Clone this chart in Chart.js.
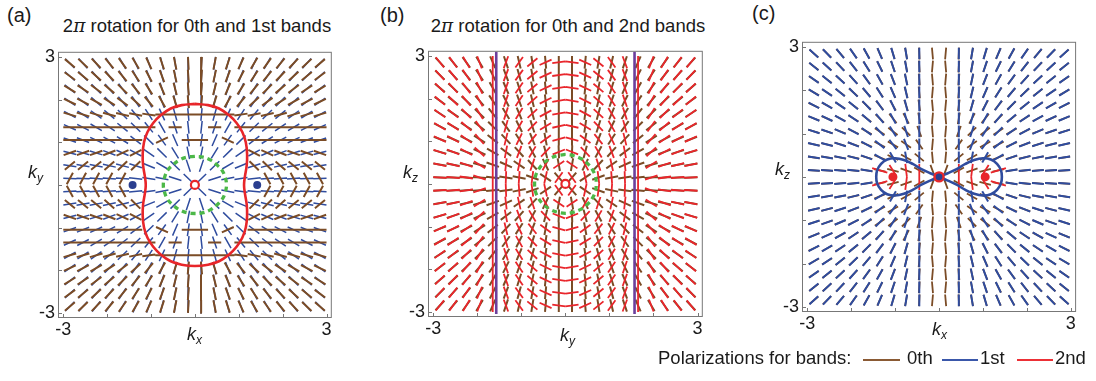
<!DOCTYPE html>
<html>
<head>
<meta charset="utf-8">
<script src="https://cdn.jsdelivr.net/npm/chart.js@4.4.1/dist/chart.umd.min.js"></script>
<style>
  body { margin: 0; width: 1096px; height: 381px; position: relative; overflow: hidden; background: #fff;
         font-family: "Liberation Sans", Arial, sans-serif; color: #1a1a1a; }
  canvas { position: absolute; }
  .t { position: absolute; white-space: nowrap; line-height: 1; }
  .title { font-size: 18.5px; transform: translateX(-50%); }
  .tag { font-size: 20px; }
  .k { font-size: 18px; font-style: italic; }
  .k sub { font-size: 12px; vertical-align: -4px; }
  .key { position: absolute; height: 2px; }
</style>
</head>
<body>
<canvas id="panelA" width="320" height="305" style="left:18px;top:38px"></canvas>
<canvas id="panelB" width="321" height="305" style="left:388px;top:37px"></canvas>
<canvas id="panelC" width="321" height="309" style="left:762px;top:28px"></canvas>

<div class="t tag" style="left:7px;top:5px">(a)</div>
<div class="t tag" style="left:380px;top:5px">(b)</div>
<div class="t tag" style="left:752px;top:3px">(c)</div>
<div class="t title" style="left:197px;top:17px">2<i style="font-family:'DejaVu Serif',serif">π</i> rotation for 0th and 1st bands</div>
<div class="t title" style="left:568px;top:17px">2<i style="font-family:'DejaVu Serif',serif">π</i> rotation for 0th and 2nd bands</div>

<div class="t k" style="left:28px;top:163px">k<sub>y</sub></div>
<div class="t k" style="left:187px;top:325px">k<sub>x</sub></div>
<div class="t k" style="left:403px;top:163px">k<sub>z</sub></div>
<div class="t k" style="left:560px;top:326px">k<sub>y</sub></div>
<div class="t k" style="left:775px;top:160px">k<sub>z</sub></div>
<div class="t k" style="left:932px;top:320px">k<sub>x</sub></div>

<div class="t" style="left:658px;top:349px;font-size:18.5px">Polarizations for bands:</div>
<div class="key" style="left:863px;top:359px;width:37px;background:#8a5a34"></div>
<div class="t" style="left:907px;top:349px;font-size:18.5px">0th</div>
<div class="key" style="left:942px;top:359px;width:36px;background:#3a57aa"></div>
<div class="t" style="left:980px;top:349px;font-size:18.5px">1st</div>
<div class="key" style="left:1017px;top:359px;width:36px;background:#ec3036"></div>
<div class="t" style="left:1055px;top:349px;font-size:18.5px">2nd</div>

<script>
'use strict';

// grid of segment centres (|k|), top row / left column first
const GRID = [2.85, 2.55, 2.25, 1.95, 1.65, 1.35, 1.05, 0.75, 0.45, 0.15];
const TICKS = [-3, -2, -1, 0, 1, 2, 3];
const LIM = 3.12;

// polarisation angles (deg, from +k_x) in the upper-left quadrant; null = not drawn
// the other quadrants follow from the mirror symmetry of the plots
const A_BAND0 = [
  [139, 136, 133, 129, 125, 120, 114, 108, 101, 93],
  [143, 140, 137, 133, 129, 123, 117, 110, 102, 94],
  [148, 146, 143, 139, 135, 129, 122, 113, 104, 94],
  [154, 152, 150, 147, 143, 137, 129, 119, 107, 95],
  [163, 163, 163, 164, 166, 168, 172, 180, 180, 180],
  [180, 180, 180, 180, 180, 180, 180, null, 180, null],
  [180, 180, 180, 180, 180, 180, null, 25, null, 180],
  [20, 20, 20, 22, 25, 28, null, null, null, null],
  [40, 40, 40, 42, 45, 45, null, null, null, null],
  [62, 62, 62, 62, 62, null, null, null, null, null]
];
const A_BAND1 = [
  [134, 131, 127, 123, 119, 114, 109, 104, 98, 92],
  [137, 134, 130, 126, 122, 117, 111, 105, 99, 92],
  [141, 138, 134, 130, 125, 120, 114, 107, 100, 93],
  [145, 142, 138, 134, 129, 124, 117, 110, 102, 93],
  [150, 147, 144, 140, 135, 129, 122, 114, 105, 95],
  [155, 152, 149, 145, 141, 135, 128, 119, 108, 96],
  [160, 158, 155, 152, 148, 142, 135, 125, 113, 98],
  [165, 164, 162, 159, 156, 151, 145, 135, 121, 101],
  [171, 170, 169, 167, 165, 162, 157, 149, 135, 108],
  [177, 177, 176, 176, 175, 174, 172, 169, 162, 135]
];
const B_BAND0 = [
  [132, 129, 125, 120, 113, 108, 103, 99, 95, 90],
  [135, 132, 128, 123, 116, 110, 105, 100, 95, 90],
  [139, 136, 132, 126, 119, 113, 107, 101, 96, 90],
  [143, 140, 136, 130, 123, 116, 109, 103, 96, 90],
  [147, 145, 141, 135, 128, 120, 112, 105, 97, 90],
  [152, 150, 146, 141, 134, 125, 116, 107, 98, 90],
  [158, 156, 152, 147, 141, 132, 122, 111, 100, 90],
  [164, 162, 159, 155, 150, 142, 131, 118, 104, 92],
  [170, 169, 167, 164, 160, 155, 145, 132, 115, 100],
  [177, 177, 176, 175, 174, 172, 168, 160, 145, 130]
];
const B_BAND2 = [
  [128, 125, 120, 110, 90, 70, 55, 40, 25, 8],
  [131, 128, 123, 112, 90, 70, 55, 40, 25, 8],
  [135, 131, 126, 115, 90, 71, 56, 41, 26, 9],
  [139, 135, 129, 118, 90, 72, 57, 42, 27, 10],
  [143, 140, 133, 121, 90, 73, 59, 44, 29, 11],
  [148, 145, 138, 125, 90, 75, 61, 47, 32, 13],
  [154, 151, 144, 130, 90, 77, 65, 52, 37, 16],
  [161, 158, 151, 137, 90, 80, 70, 60, 47, 22],
  [168, 166, 160, 147, 90, 84, 78, 72, 62, 35],
  [176, 175, 171, 160, 90, 88, 86, 83, 78, 55]
];
const C_BAND0 = [
  [139, 135, 131, 126, 120, 114, 107, 100, 93, 95],
  [142, 138, 134, 129, 123, 117, 109, 101, 94, 85],
  [146, 142, 138, 133, 127, 120, 112, 103, 95, 95],
  [150, 147, 142, 137, 131, 124, 115, 105, 96, 85],
  [154, 151, 147, 142, 136, 129, 119, 108, 98, 95],
  [158, 156, 152, 148, 142, 135, 128, 118, 100, 85],
  [163, 161, 158, 154, 150, 146, 142, 135, 110, 95],
  [167, 166, 163, 160, 157, 153, 150, 145, 125, 85],
  [171, 170, 169, 167, 163, 158, 155, 150, 140, 95],
  [176, 176, 175, 174, 170, 168, 165, 160, 150, 110]
];
const C_BAND1 = [
  [137, 133, 129, 124, 118, 112, 106, 99, 90, null],
  [140, 136, 132, 127, 121, 115, 108, 100, 90, null],
  [144, 140, 136, 131, 125, 118, 110, 101, 90, null],
  [148, 145, 140, 135, 129, 121, 112, 102, 90, null],
  [152, 149, 145, 140, 133, 125, 115, 104, 90, null],
  [157, 154, 150, 145, 138, 129, 118, 106, 90, null],
  [162, 160, 156, 151, 144, 134, 122, 108, 90, null],
  [166, 165, 162, 158, 151, 141, 127, 111, 90, null],
  [171, 170, 168, 165, 160, 150, 120, 100, 90, null],
  [176, 176, 175, 174, 172, null, null, null, null, null]
];
// band 2 only exists inside the lobes of (c): [k_x, k_z, angle, length]
const C_BAND2 = [[-1.35, 0.15, 163, 0.36], [-1.05, 0.15, 122, 0.3], [-0.75, 0.15, 97, 0.3], [-0.45, 0.15, 90, 0.3]];

// contours, upper-left quarter from the top (or origin) towards the k_x axis
const A_RING = [[0, 1.9], [-0.3, 1.87], [-0.55, 1.79], [-0.78, 1.63], [-0.95, 1.45], [-1.08, 1.24],
  [-1.16, 1.0], [-1.19, 0.72], [-1.18, 0.45], [-1.14, 0.2], [-1.12, 0]];
const A_GREEN = [[0, 0.67], [-0.19, 0.65], [-0.36, 0.58], [-0.5, 0.47], [-0.62, 0.34], [-0.69, 0.18], [-0.72, 0]];
const B_GREEN = [[0, 0.69], [-0.19, 0.66], [-0.36, 0.59], [-0.5, 0.48], [-0.61, 0.34], [-0.68, 0.18], [-0.7, 0]];
const B_WALLS = [-1.57, 1.57];
const C_LOBE = [[0, 0], [-0.2, 0.085], [-0.4, 0.18], [-0.6, 0.3], [-0.8, 0.39], [-1.0, 0.43], [-1.18, 0.4],
  [-1.32, 0.3], [-1.41, 0.15], [-1.43, 0]];
const A_DOTS = [-1.42, 1.42];
const C_DOTS = [-1.05, 1.05];

const COL = {
  band0: '#7b4c26', band1: '#2f4c9e', band2: '#e9262c',
  green: '#4cb848', purple: '#6b3f9c', ring: '#e8262a', dotBlue: '#2b3f8f'
};
const FONT = '"Liberation Sans", Arial, sans-serif';

// ---------- helpers ----------
function mirror4(x, y, deg) {
  return [[x, y, deg], [-x, y, -deg], [x, -y, -deg], [-x, -y, deg]];
}

function pushSeg(pts, cx, cy, deg, len) {
  const r = deg * Math.PI / 180;
  const dx = Math.cos(r) * len / 2, dy = Math.sin(r) * len / 2;
  pts.push({ x: cx - dx, y: cy - dy }, { x: cx + dx, y: cy + dy }, { x: cx, y: null });
}

function fieldPoints(table, len) {
  const pts = [];
  table.forEach((row, j) => row.forEach((deg, i) => {
    if (deg === null) return;
    mirror4(-GRID[i], GRID[j], deg).forEach(([x, y, d]) => pushSeg(pts, x, y, d, len));
  }));
  return pts;
}

function listPoints(list) {
  const pts = [];
  list.forEach(([x, y, deg, len]) => mirror4(x, y, deg).forEach(([a, b, d]) => pushSeg(pts, a, b, d, len)));
  return pts;
}

function mirrorLoop(q) {
  const a = q.map(([x, y]) => ({ x, y }));
  const b = q.slice().reverse().map(([x, y]) => ({ x, y: -y }));
  const c = q.map(([x, y]) => ({ x: -x, y: -y }));
  const d = q.slice().reverse().map(([x, y]) => ({ x: -x, y }));
  return [...a, ...b.slice(1), ...c.slice(1), ...d.slice(1)];
}

function lobes(q) {
  const up = q.map(([x, y]) => ({ x, y }));
  const down = q.slice().reverse().map(([x, y]) => ({ x, y: -y }));
  const left = [...up, ...down.slice(1)];
  const right = left.map(p => ({ x: -p.x, y: p.y }));
  return [...left, { x: 0, y: null }, ...right];
}

const segSet = (data, color, width, order) => ({
  data, showLine: true, borderColor: color, borderWidth: width, pointRadius: 0, order, spanGaps: false
});
const curveSet = (data, color, width, order, dash) => ({
  data, showLine: true, borderColor: color, borderWidth: width, pointRadius: 0, tension: 0.4,
  order, borderDash: dash || [], spanGaps: false
});
const dotSet = (data, fill, border, radius, bw, order) => ({
  data, showLine: false, pointRadius: radius, pointBackgroundColor: fill, pointBorderColor: border,
  pointBorderWidth: bw, order
});

// inward ticks and grey frame
const framePlugin = {
  id: 'frame',
  afterDraw(chart) {
    const { ctx, chartArea: a, scales: { x, y } } = chart;
    ctx.save();
    ctx.strokeStyle = '#777';
    ctx.lineWidth = 1;
    ctx.strokeRect(a.left + 0.5, a.top + 0.5, a.width - 1, a.height - 1);
    ctx.beginPath();
    TICKS.forEach(v => {
      const py = Math.round(y.getPixelForValue(v)) + 0.5;
      ctx.moveTo(a.left, py); ctx.lineTo(a.left + 4, py);
      const px = Math.round(x.getPixelForValue(v)) + 0.5;
      ctx.moveTo(px, a.bottom); ctx.lineTo(px, a.bottom - 4);
    });
    ctx.stroke();
    ctx.restore();
  }
};

function axis(dir) {
  return {
    type: 'linear', min: -LIM, max: LIM,
    grid: { display: false, drawTicks: false },
    border: { display: false },
    afterBuildTicks: s => { s.ticks = TICKS.map(v => ({ value: v })); },
    afterFit: s => { if (dir === 'x') s.height = 25; else s.width = 40; },
    ticks: {
      autoSkip: false, maxRotation: 0, padding: dir === 'x' ? 1 : 3,
      color: '#1a1a1a', font: { family: FONT, size: 18 },
      callback: v => (v === 3 || v === -3) ? String(v) : ''
    }
  };
}

function makePanel(id, datasets) {
  return new Chart(document.getElementById(id), {
    type: 'scatter',
    data: { datasets },
    options: {
      responsive: false, animation: false, events: [],
      layout: { padding: { top: 5, right: 4, left: 0, bottom: 0 } },
      plugins: { legend: { display: false }, tooltip: { enabled: false } },
      scales: { x: axis('x'), y: axis('y') }
    },
    plugins: [framePlugin]
  });
}

// ---------- panels ----------
makePanel('panelA', [
  dotSet([{ x: 0, y: 0 }], '#fff', COL.ring, 4, 2.2, 0),
  dotSet(A_DOTS.map(x => ({ x, y: 0 })), COL.dotBlue, COL.dotBlue, 4, 0, 0),
  curveSet(mirrorLoop(A_GREEN), COL.green, 3.3, 1, [5, 4]),
  curveSet(mirrorLoop(A_RING), COL.ring, 2.6, 1),
  segSet(fieldPoints(A_BAND0, 0.3), COL.band0, 2.0, 2),
  segSet(fieldPoints(A_BAND1, 0.3), COL.band1, 1.5, 3)
]);

makePanel('panelB', [
  dotSet([{ x: 0, y: 0 }], '#fff', COL.ring, 4, 2.2, 0),
  curveSet(mirrorLoop(B_GREEN), COL.green, 3.3, 1, [5, 4]),
  ...B_WALLS.map(x => curveSet([{ x, y: -3.05 }, { x, y: 3.1 }], COL.purple, 2.6, 1)),
  segSet(fieldPoints(B_BAND2, 0.3), COL.band2, 1.8, 2),
  segSet(fieldPoints(B_BAND0, 0.3), COL.band0, 2.0, 3)
]);

makePanel('panelC', [
  dotSet([{ x: 0, y: 0 }], COL.dotBlue, COL.ring, 4.5, 2.4, 0),
  dotSet(C_DOTS.map(x => ({ x, y: 0 })), COL.ring, COL.ring, 4.5, 0, 0),
  curveSet(lobes(C_LOBE), COL.band1, 2.6, 1),
  segSet(listPoints(C_BAND2), COL.band2, 1.8, 1),
  segSet(fieldPoints(C_BAND1, 0.27), COL.band1, 2.0, 2),
  segSet(fieldPoints(C_BAND0, 0.27), COL.band0, 1.8, 3)
]);
</script>
</body>
</html>
